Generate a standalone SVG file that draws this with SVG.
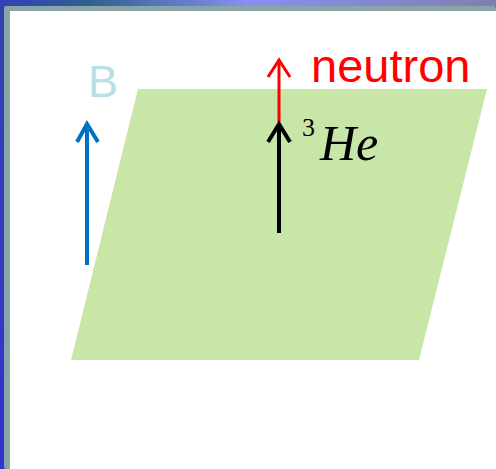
<svg xmlns="http://www.w3.org/2000/svg" width="496" height="469" viewBox="0 0 496 469">
<defs>
<linearGradient id="topg" x1="0" y1="0" x2="1" y2="0">
<stop offset="0" stop-color="#3240b8"/>
<stop offset="0.18" stop-color="#30608f"/>
<stop offset="0.5" stop-color="#8890f0"/>
<stop offset="1" stop-color="#7f80b0"/>
</linearGradient>
<linearGradient id="leftg" x1="0" y1="0" x2="0" y2="1">
<stop offset="0" stop-color="#3342b0"/>
<stop offset="1" stop-color="#3232d2"/>
</linearGradient>
<style>
.arr{fill:none;stroke-linecap:butt;stroke-linejoin:miter}
</style>
</defs>
<g id="frame">
<rect x="0" y="0" width="496" height="469" fill="url(#leftg)"/>
<rect x="0" y="0" width="496" height="6" fill="url(#topg)"/>
<rect x="4" y="6" width="492" height="463" rx="2" fill="#8aa5a8"/>
<rect x="10" y="11" width="486" height="458" fill="#ffffff"/>
</g>
<g id="plane">
<polygon points="138,89 487,89 419,360 71,360" fill="#c9e6a9"/>
</g>
<g id="connectors">
<g id="arrow-B" stroke="#0070c0" stroke-width="4" class="arr">
<line x1="87" y1="265" x2="87" y2="124"/>
<polyline points="77,142 87,124 98,142"/>
</g>
<g id="arrow-neutron" stroke="#ff0000" stroke-width="3" class="arr">
<line x1="279" y1="122" x2="279" y2="60"/>
<polyline points="268,77 279,60 290,77"/>
</g>
<g id="arrow-He" stroke="#000000" stroke-width="4" class="arr">
<line x1="279" y1="233" x2="279" y2="124"/>
<polyline points="268,142 279,124 290,142"/>
</g>
</g>
<g id="label-B">
<text x="88" y="97" font-family="Liberation Sans, Arial, sans-serif" font-size="45" fill="#b7dfe6">B</text>
</g>
<g id="label-neutron">
<text x="311" y="82" font-family="Liberation Sans, Arial, sans-serif" font-size="47" fill="#ff0000">neutron</text>
</g>
<g id="label-He3">
<text x="302" y="136" font-family="Liberation Serif, Times New Roman, serif" font-size="26" fill="#000000">3</text>
<text x="320" y="160" font-family="Liberation Serif, Times New Roman, serif" font-size="50" font-style="italic" fill="#000000">He</text>
</g>
</svg>
